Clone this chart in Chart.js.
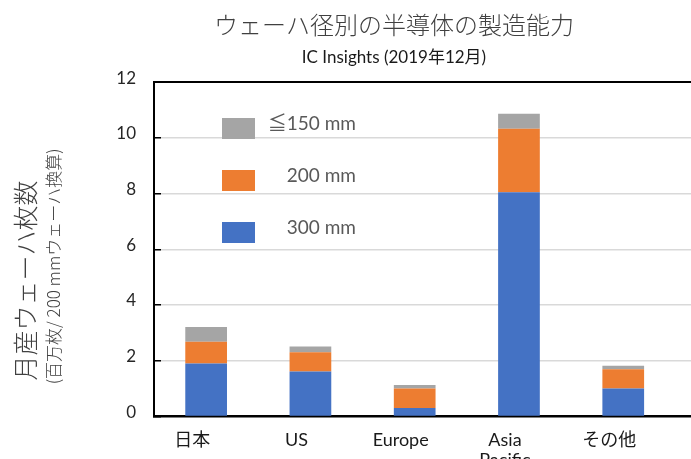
<!DOCTYPE html>
<html>
<head>
<meta charset="utf-8">
<script src="https://cdn.jsdelivr.net/npm/chart.js@4.4.1/dist/chart.umd.min.js"></script>
<style>
html,body{margin:0;padding:0;background:#fff;}
#wrap{position:relative;width:691px;height:459px;overflow:hidden;}
#legend{position:absolute;left:222px;top:118px;margin:0;padding:0;list-style:none;font:19px Lato,"Noto Sans CJK JP",sans-serif;color:#595959;}
#legend li{display:flex;height:52px;}
#legend .box{width:33px;height:21px;}
#legend .txt{width:101px;text-align:right;line-height:21px;margin-top:-6px;white-space:nowrap;}
</style>
</head>
<body>
<div id="wrap">
<canvas id="chartWafer" width="788" height="484"></canvas>
<ul id="legend"></ul>
</div>
<script>
const regions = ['日本','US','Europe',['Asia','Pacific'],'その他'];
const w300 = [1.90,1.61,0.30,8.05,1.00];
const w200 = [0.78,0.69,0.70,2.28,0.69];
const w150 = [0.53,0.21,0.13,0.54,0.13];
const seriesNames = ['300 mm','200 mm','≦150 mm'];
const yTicks = [0,2,4,6,8,10,12];

const latin = "Lato, 'Noto Sans CJK JP', sans-serif";
const jp = "'Noto Sans CJK JP', sans-serif";

function points(arr){
return arr.map((v,i)=>({x:i,y:v}));
}

/* legend drawn as html, top item = last dataset */
const htmlLegend = {
id:'htmlLegend',
afterUpdate(chart){
let ul = document.getElementById('legend');
ul.innerHTML='';
let items = chart.options.plugins.legend.labels.generateLabels(chart).reverse();
items.forEach(it=>{
let li = document.createElement('li');
let box = document.createElement('span');
box.className='box';
box.style.background=it.fillStyle;
let txt = document.createElement('span');
txt.className='txt';
txt.textContent=it.text;
li.appendChild(box);
li.appendChild(txt);
ul.appendChild(li);
});
}
};

new Chart(document.getElementById('chartWafer'),{
type:'bar',
data:{datasets:[
{label:seriesNames[0],data:points(w300),backgroundColor:'#4472C4'},
{label:seriesNames[1],data:points(w200),backgroundColor:'#ED7D31'},
{label:seriesNames[2],data:points(w150),backgroundColor:'#A5A5A5'}
]},
options:{
responsive:false,
animation:false,
datasets:{bar:{xAxisID:'x',yAxisID:'y',barPercentage:0.4,categoryPercentage:1,borderWidth:0}},
layout:{padding:0},
plugins:{
legend:{display:false},
tooltip:{enabled:false},
title:{display:true,text:'ウェーハ径別の半導体の製造能力',color:'#404040',
font:{family:jp,size:24,weight:'300'},padding:{top:10,bottom:0}},
subtitle:{display:true,text:'IC Insights (2019年12月)',color:'#1a1a1a',
font:{family:latin,size:17},padding:{top:9,bottom:14}}
},
scales:{
x:{
type:'linear',stacked:true,min:-0.5,max:5.58,offset:false,
afterBuildTicks:s=>{ s.ticks = regions.map((r,i)=>({value:i})); },
ticks:{callback:v=>regions[v],padding:14,labelOffset:-14,color:'#1a1a1a',
font:{family:latin,size:18,lineHeight:1.1},maxRotation:0,autoSkip:false},
grid:{display:false,drawTicks:false},
border:{color:'#000',width:2}
},
y:{
type:'linear',stacked:true,min:0,max:12,weight:0,
afterBuildTicks:s=>{ s.ticks = yTicks.map(v=>({value:v})); },
ticks:{padding:25,labelOffset:-4,color:'#262626',font:{family:latin,size:17}},
grid:{
color:c=>(c.tick && (c.tick.value===0 || c.tick.value===12)) ? '#000' : '#d9d9d9',
lineWidth:c=>(c.tick && c.tick.value===12) ? 2 : 1.5,
tickLength:-7,tickColor:'#000',tickWidth:1.5
},
border:{color:'#000',width:2},
title:{display:true,text:'(百万枚/ 200 mmウェーハ換算)\u3000\u3000',color:'#404040',
font:{family:jp,size:17,weight:'300'},padding:{top:3,bottom:0}},
afterFit:s=>{ s.width=114; }
},
y2:{
type:'linear',position:'left',weight:1,display:true,
grid:{display:false,drawTicks:false},
border:{display:false},
ticks:{display:false},
title:{display:true,text:'月産ウェーハ枚数\u3000\u3000\u2002',color:'#404040',
font:{family:jp,size:25,weight:'300'},padding:{top:10,bottom:0}},
afterFit:s=>{ s.width=40; }
}
}
},
plugins:[htmlLegend]
});
</script>
</body>
</html>
